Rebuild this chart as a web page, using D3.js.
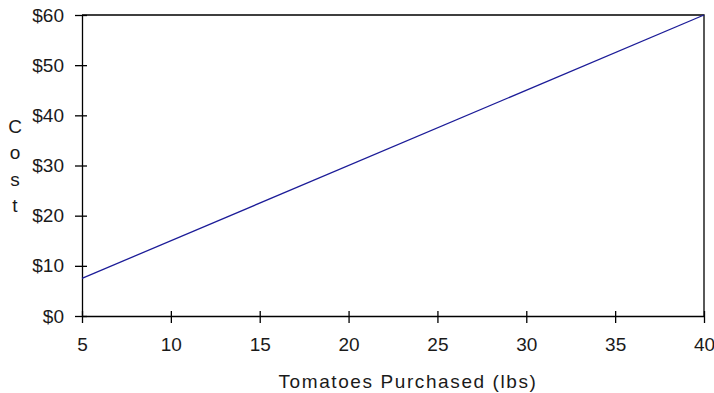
<!DOCTYPE html>
<html>
<head>
<meta charset="utf-8">
<script src="https://cdn.jsdelivr.net/npm/d3@7"></script>
<style>
  body { margin: 0; background: #fff; }
  text { font-family: Arial, "Liberation Sans", sans-serif; fill: #1a1a1a; }
</style>
</head>
<body>
<div id="chart"></div>
<script>
// Tomatoes cost chart

const pounds = [5, 40];
const costs = [7.5, 60];
const xTicks = [5, 10, 15, 20, 25, 30, 35, 40];
const yTicks = [0, 10, 20, 30, 40, 50, 60];
const yTitleLetters = ['C', 'o', 's', 't'];

const W = 714, H = 393;
const margin = { top: 15, right: 10, bottom: 77, left: 82 };
const width = W - margin.left - margin.right;
const height = H - margin.top - margin.bottom;

const svg = d3.select('#chart').append('svg')
    .attr('width', W)
    .attr('height', H);

const g = svg.append('g')
    .attr('transform', `translate(${margin.left},${margin.top})`);

const x = d3.scaleLinear().domain([5, 40]).range([0, width]);
const y = d3.scaleLinear().domain([0, 60]).range([height, 0]);

// Plot border (top and right)
g.append('path')
    .attr('d', `M0,0H${width}V${height}`)
    .attr('fill', 'none')
    .attr('stroke', '#000')
    .attr('stroke-width', 1.3);

// Y axis: ticks cross the axis line
const yAxis = g.append('g')
    .call(d3.axisLeft(y).tickValues(yTicks).tickSize(0).tickFormat(d => '$' + d));
yAxis.select('.domain').attr('stroke-width', 1.3);
yAxis.selectAll('.tick line').attr('x1', -7).attr('x2', 5).attr('stroke-width', 1.3);
yAxis.selectAll('.tick text')
    .attr('x', -18)
    .attr('font-size', 19)
    .attr('fill', '#1a1a1a')
    .attr('font-family', 'Arial, "Liberation Sans", sans-serif');

// X axis
const xAxis = g.append('g')
    .attr('transform', `translate(0,${height})`)
    .call(d3.axisBottom(x).tickValues(xTicks).tickSize(0));
xAxis.select('.domain').attr('stroke-width', 1.3);
xAxis.selectAll('.tick line').attr('y1', -5).attr('y2', 7).attr('stroke-width', 1.3);
xAxis.selectAll('.tick text')
    .attr('y', 22)
    .attr('font-size', 19)
    .attr('fill', '#1a1a1a')
    .attr('font-family', 'Arial, "Liberation Sans", sans-serif');

// Cost line
const line = d3.line()
    .x((d, i) => x(pounds[i]))
    .y(d => y(d));

g.append('path')
    .datum(costs)
    .attr('fill', 'none')
    .attr('stroke', '#1c1c98')
    .attr('stroke-width', 1.3)
    .attr('d', line);

// X title
svg.append('text')
    .attr('x', 408)
    .attr('y', 388)
    .attr('text-anchor', 'middle')
    .attr('font-size', 19)
    .attr('letter-spacing', 1.6)
    .text('Tomatoes Purchased (lbs)');

// Y title, one letter per row
svg.selectAll('.ytitle')
    .data(yTitleLetters)
    .enter()
    .append('text')
    .attr('class', 'ytitle')
    .attr('x', 15)
    .attr('y', (d, i) => 126 + i * 26.5)
    .attr('dy', '0.35em')
    .attr('text-anchor', 'middle')
    .attr('font-size', 19)
    .text(d => d);
</script>
</body>
</html>
